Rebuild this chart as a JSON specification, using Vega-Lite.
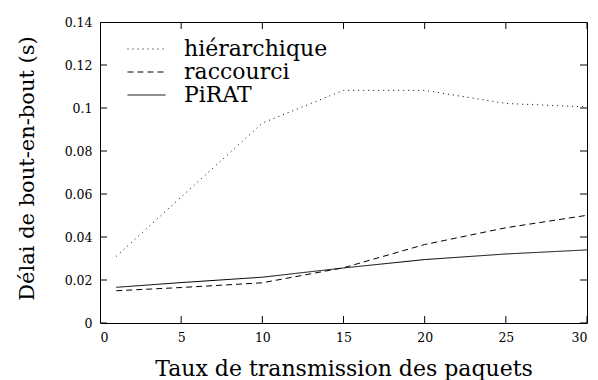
{
  "$schema": "https://vega.github.io/schema/vega-lite/v6.json",
  "width": 487,
  "height": 301,
  "autosize": {"type": "none"},
  "padding": {"left": 100, "top": 22, "right": 11, "bottom": 57},
  "background": "white",
  "config": {
    "view": {"stroke": "black", "strokeWidth": 1},
    "font": "DejaVu Serif",
    "axis": {"grid": false, "ticks": false, "domain": false}
  },
  "layer": [
    {
      "data": {
        "values": [
          {"x": 1, "y": 0.031, "s": "hiérarchique"},
          {"x": 5, "y": 0.0586, "s": "hiérarchique"},
          {"x": 10, "y": 0.093, "s": "hiérarchique"},
          {"x": 15, "y": 0.1082, "s": "hiérarchique"},
          {"x": 20, "y": 0.1082, "s": "hiérarchique"},
          {"x": 25, "y": 0.1021, "s": "hiérarchique"},
          {"x": 30, "y": 0.1005, "s": "hiérarchique"},
          {"x": 1, "y": 0.015, "s": "raccourci"},
          {"x": 5, "y": 0.0165, "s": "raccourci"},
          {"x": 10, "y": 0.0187, "s": "raccourci"},
          {"x": 15, "y": 0.0257, "s": "raccourci"},
          {"x": 20, "y": 0.0365, "s": "raccourci"},
          {"x": 25, "y": 0.0443, "s": "raccourci"},
          {"x": 30, "y": 0.0501, "s": "raccourci"},
          {"x": 1, "y": 0.0166, "s": "PiRAT"},
          {"x": 5, "y": 0.0188, "s": "PiRAT"},
          {"x": 10, "y": 0.0213, "s": "PiRAT"},
          {"x": 15, "y": 0.0256, "s": "PiRAT"},
          {"x": 20, "y": 0.0295, "s": "PiRAT"},
          {"x": 25, "y": 0.0321, "s": "PiRAT"},
          {"x": 30, "y": 0.034, "s": "PiRAT"}
        ]
      },
      "mark": {"type": "line", "color": "black", "strokeWidth": 1},
      "encoding": {
        "x": {
          "field": "x", "type": "quantitative",
          "scale": {"domain": [0, 30], "nice": false},
          "axis": {
            "orient": "bottom",
            "values": [0, 5, 10, 15, 20, 25, 30],
            "grid": false,
            "domain": false,
            "ticks": false,
            "labelPadding": 8,
            "labelFont": "DejaVu Serif",
            "labelFontSize": 12.5,
            "labelColor": "black",
            "title": "Taux de transmission des paquets",
            "titleFont": "DejaVu Serif",
            "titleFontSize": 22,
            "titleFontWeight": "normal",
            "titleColor": "black",
            "titleBaseline": "alphabetic",
            "titleY": 52
          }
        },
        "y": {
          "field": "y", "type": "quantitative",
          "scale": {"domain": [0, 0.14], "nice": false},
          "axis": {
            "orient": "left",
            "values": [0, 0.02, 0.04, 0.06, 0.08, 0.1, 0.12, 0.14],
            "format": ".2~f",
            "grid": false,
            "domain": false,
            "ticks": false,
            "labelPadding": 8,
            "labelFont": "DejaVu Serif",
            "labelFontSize": 12.5,
            "labelColor": "black",
            "title": "Délai de bout-en-bout (s)",
            "titleFont": "DejaVu Serif",
            "titleFontSize": 21,
            "titleFontWeight": "normal",
            "titleColor": "black",
            "titleAngle": -90,
            "titleBaseline": "alphabetic",
            "titleX": -67,
            "titleY": 146
          }
        },
        "strokeDash": {
          "field": "s", "type": "nominal",
          "scale": {
            "domain": ["hiérarchique", "raccourci", "PiRAT"],
            "range": [[1, 4], [6, 4], [1, 0]]
          },
          "legend": {
            "orient": "none",
            "legendX": 27,
            "legendY": 16,
            "title": null,
            "symbolType": "stroke",
            "symbolSize": 1444,
            "symbolStrokeWidth": 1,
            "symbolStrokeColor": "black",
            "clipHeight": 22,
            "labelFont": "DejaVu Serif",
            "labelFontSize": 22,
            "labelColor": "black",
            "labelOffset": 18,
            "rowPadding": 1,
            "padding": 0
          }
        }
      }
    },
    {
      "data": {"values": [{"x": 0}, {"x": 5}, {"x": 10}, {"x": 15}, {"x": 20}, {"x": 25}, {"x": 30}]},
      "mark": {"type": "tick", "orient": "vertical", "size": 14, "thickness": 1, "color": "black", "opacity": 1, "clip": true},
      "encoding": {
        "x": {"field": "x", "type": "quantitative"},
        "y": {"datum": 0, "type": "quantitative"}
      }
    },
    {
      "data": {"values": [{"x": 0}, {"x": 5}, {"x": 10}, {"x": 15}, {"x": 20}, {"x": 25}, {"x": 30}]},
      "mark": {"type": "tick", "orient": "vertical", "size": 14, "thickness": 1, "color": "black", "opacity": 1, "clip": true},
      "encoding": {
        "x": {"field": "x", "type": "quantitative"},
        "y": {"datum": 0.14, "type": "quantitative"}
      }
    },
    {
      "data": {"values": [{"y": 0}, {"y": 0.02}, {"y": 0.04}, {"y": 0.06}, {"y": 0.08}, {"y": 0.1}, {"y": 0.12}, {"y": 0.14}]},
      "mark": {"type": "tick", "orient": "horizontal", "size": 14, "thickness": 1, "color": "black", "opacity": 1, "clip": true},
      "encoding": {
        "y": {"field": "y", "type": "quantitative"},
        "x": {"datum": 0, "type": "quantitative"}
      }
    },
    {
      "data": {"values": [{"y": 0}, {"y": 0.02}, {"y": 0.04}, {"y": 0.06}, {"y": 0.08}, {"y": 0.1}, {"y": 0.12}, {"y": 0.14}]},
      "mark": {"type": "tick", "orient": "horizontal", "size": 14, "thickness": 1, "color": "black", "opacity": 1, "clip": true},
      "encoding": {
        "y": {"field": "y", "type": "quantitative"},
        "x": {"datum": 30, "type": "quantitative"}
      }
    }
  ]
}
